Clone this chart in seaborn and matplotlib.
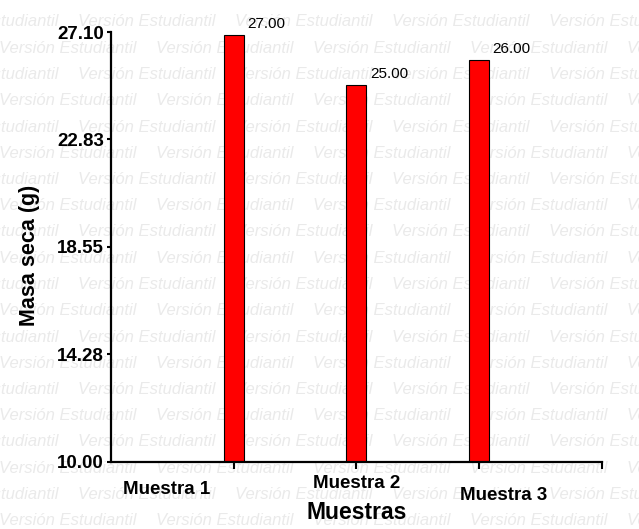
import numpy as np
import pandas as pd
import seaborn as sns
from matplotlib import pyplot as plt

# data
muestras = ["Muestra 1", "Muestra 2", "Muestra 3"]
masa_seca = [27.00, 25.00, 26.00]
y_ticks = [10.00, 14.28, 18.55, 22.83, 27.10]
y_tick_labels = ["10.00", "14.28", "18.55", "22.83", "27.10"]

df = pd.DataFrame({"Muestras": muestras, "Masa seca (g)": masa_seca})

sns.set_style("white")
plt.rcParams["font.family"] = ["Liberation Sans", "DejaVu Sans"]
plt.rcParams["text.color"] = "black"
plt.rcParams["axes.labelcolor"] = "black"

fig = plt.figure(figsize=(6.39, 5.29), dpi=100)
ax = fig.add_axes([0.1737, 0.1267, 0.7683, 0.8128])
ax.patch.set_alpha(0)

## watermark tiled behind everything (pixel layout)
for k in range(21):
    y_px = 22 + 26.25 * k
    x0 = -79 if k % 2 == 0 else -1
    for n in range(6):
        fig.text((x0 + n * 157) / 639, 1 - y_px / 529, "Versión Estudiantil",
                 fontsize=12, style="italic", color="#eaeaea",
                 ha="left", va="center", zorder=-5)

sns.barplot(data=df, x="Muestras", y="Masa seca (g)", color="#ff0000",
            saturation=1, edgecolor="black", linewidth=0.8, width=0.163, ax=ax)

ax.set_xlim(-1, 3)
ax.set_ylim(10, 27.1)
ax.set_yticks(y_ticks, y_tick_labels)
ax.set_xticks([0, 1, 2, 3], ["", "", "", ""])

sns.despine(ax=ax)
for side in ["left", "bottom"]:
    ax.spines[side].set_linewidth(1.6)
    ax.spines[side].set_color("black")

ax.tick_params(axis="y", direction="out", length=3, width=1.5, labelsize=13.5,
               pad=2, left=True, colors="black")
ax.tick_params(axis="x", direction="out", length=5, width=1.5, bottom=True,
               colors="black")
for lbl in ax.get_yticklabels():
    lbl.set_fontweight("bold")

# staggered category labels like the original
label_pos = [(-0.547, -0.065), (1.0, -0.051), (2.196, -0.078)]
for name, (xp, yp) in zip(muestras, label_pos):
    ax.text(xp, yp, name, transform=ax.get_xaxis_transform(), ha="center",
            va="center", fontsize=13.5, fontweight="bold", color="black")

# value labels
for i, v in enumerate(masa_seca):
    ax.annotate(f"{v:.2f}", xy=(i, v), xytext=(9.7, 7.6),
                textcoords="offset points", ha="left", va="center",
                fontsize=11, color="black")

ax.set_ylabel("Masa seca (g)", fontsize=15.5, fontweight="bold", color="black")
ax.yaxis.set_label_coords(-0.167, 0.481)
ax.yaxis.label.set_va("center")
ax.set_xlabel("Muestras", fontsize=16.5, fontweight="bold", color="black")
ax.xaxis.set_label_coords(0.501, -0.118)
ax.xaxis.label.set_va("center")

fig.savefig("out.png", dpi=100)
